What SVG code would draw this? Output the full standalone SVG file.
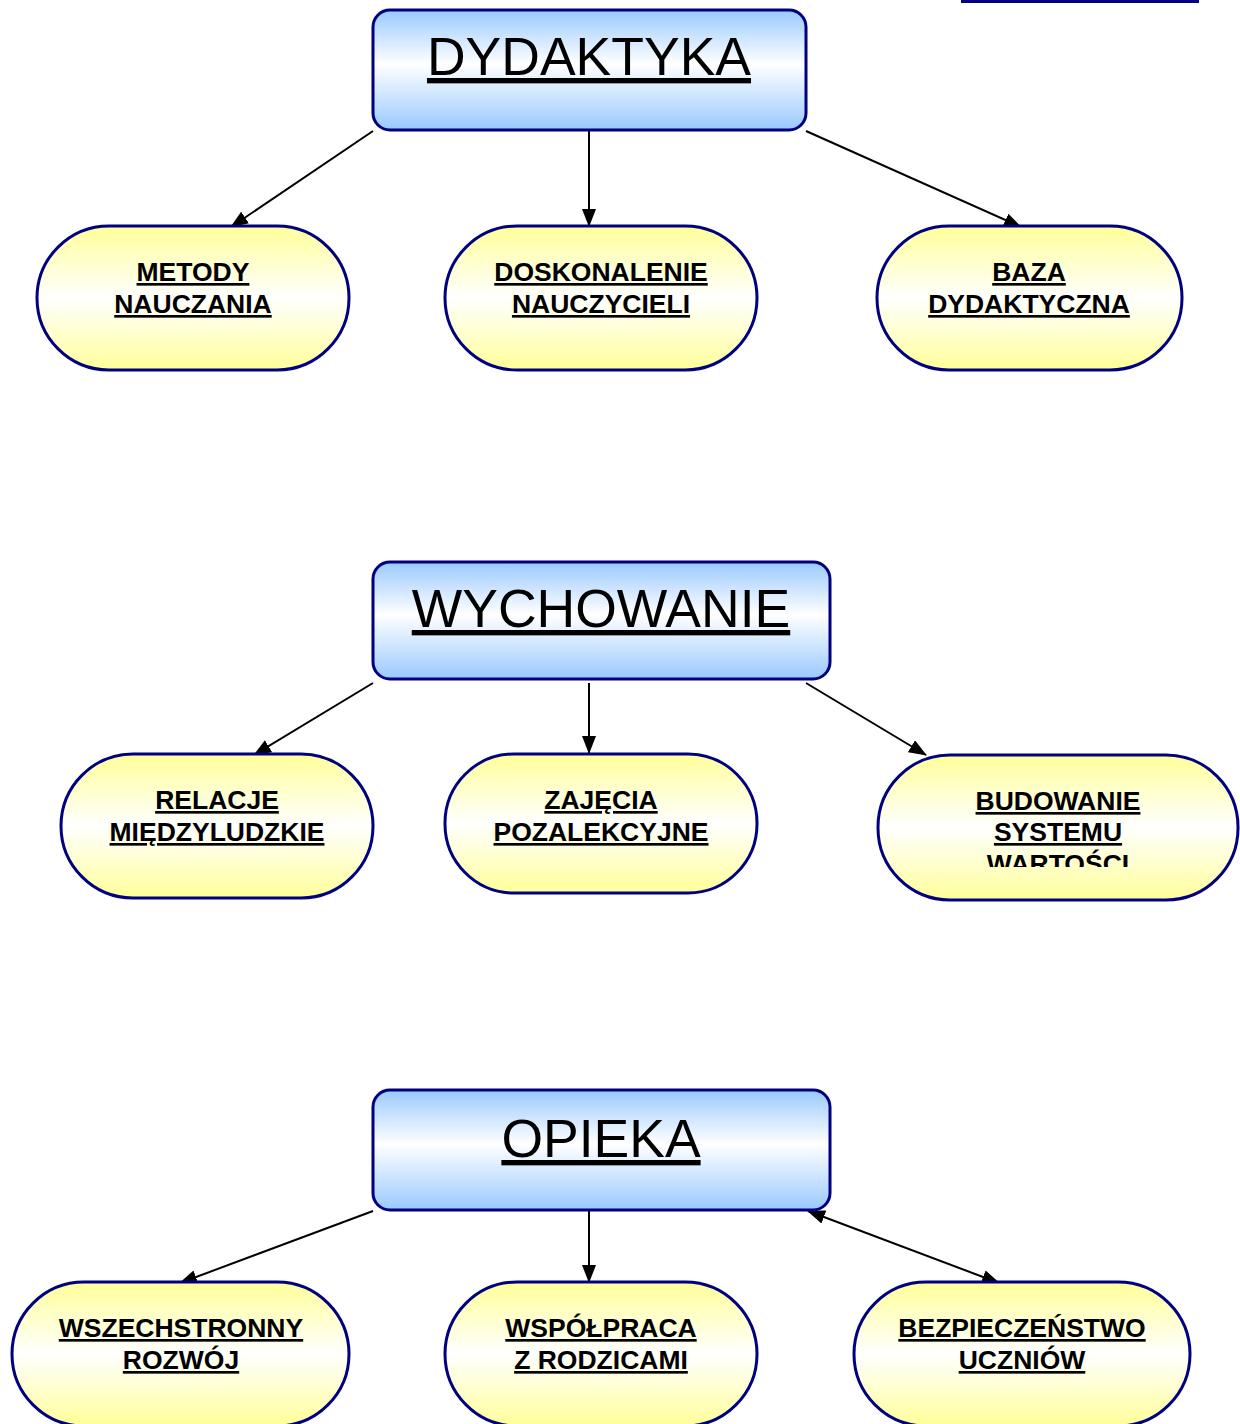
<svg xmlns="http://www.w3.org/2000/svg" width="1240" height="1424" viewBox="0 0 1240 1424">
<defs>
<linearGradient id="gBlue" x1="0" y1="0" x2="0" y2="1">
<stop offset="0" stop-color="#99c9ff"/>
<stop offset="0.45" stop-color="#ffffff"/>
<stop offset="1" stop-color="#99c9ff"/>
</linearGradient>
<linearGradient id="gYellow" x1="0" y1="0" x2="0" y2="1">
<stop offset="0" stop-color="#ffff99"/>
<stop offset="0.5" stop-color="#ffffff"/>
<stop offset="1" stop-color="#ffff99"/>
</linearGradient>
<marker id="ah" markerUnits="userSpaceOnUse" markerWidth="18" markerHeight="14" viewBox="0 0 18 14" refX="17" refY="7" orient="auto-start-reverse">
<path d="M0,0 L18,7 L0,14 z" fill="#000"/>
</marker>
<clipPath id="clipBud"><rect x="870" y="740" width="370" height="127"/></clipPath>
</defs>
<style>
.main{fill:url(#gBlue);stroke:#000080;stroke-width:3}
.sub{fill:url(#gYellow);stroke:#000080;stroke-width:3}
.big{font-family:"Liberation Sans",Arial,sans-serif;font-size:53.5px;fill:#000;text-anchor:middle;text-decoration:underline}
.lbl{font-family:"Liberation Sans",Arial,sans-serif;font-size:26.5px;font-weight:bold;fill:#000;text-anchor:middle;text-decoration:underline}
.con{stroke:#000;stroke-width:2;fill:none;marker-end:url(#ah)}
</style>
<rect x="961" y="0" width="238" height="3" fill="#000080"/>
<g id="connectors">
<line class="con" x1="373" y1="131" x2="231" y2="227"/>
<line class="con" x1="589" y1="131" x2="589" y2="226"/>
<line class="con" x1="806" y1="131" x2="1021" y2="227"/>
<line class="con" x1="373" y1="683" x2="254" y2="755"/>
<line class="con" x1="589" y1="683" x2="589" y2="753"/>
<line class="con" x1="806" y1="683" x2="926" y2="755"/>
<line class="con" x1="373" y1="1211" x2="180" y2="1283"/>
<line class="con" x1="589" y1="1211" x2="589" y2="1282"/>
<line class="con" x1="808" y1="1211" x2="999" y2="1283" style="marker-start:url(#ah)"/>
</g>
<g id="dydaktyka">
<rect class="main" x="373" y="10" width="433" height="120" rx="17"/>
<text class="big" x="589" y="75">DYDAKTYKA</text>
</g>
<g id="metody">
<rect class="sub" x="37" y="226" width="312" height="144" rx="72"/>
<text class="lbl" x="193" y="281">METODY</text>
<text class="lbl" x="193" y="313">NAUCZANIA</text>
</g>
<g id="doskonalenie">
<rect class="sub" x="445" y="226" width="312" height="144" rx="72"/>
<text class="lbl" x="601" y="281">DOSKONALENIE</text>
<text class="lbl" x="601" y="313">NAUCZYCIELI</text>
</g>
<g id="baza">
<rect class="sub" x="877" y="226" width="305" height="144" rx="72"/>
<text class="lbl" x="1029" y="281">BAZA</text>
<text class="lbl" x="1029" y="313">DYDAKTYCZNA</text>
</g>
<g id="wychowanie">
<rect class="main" x="373" y="562" width="457" height="117" rx="17"/>
<text class="big" x="601" y="627">WYCHOWANIE</text>
</g>
<g id="relacje">
<rect class="sub" x="61" y="754" width="312" height="144" rx="72"/>
<text class="lbl" x="217" y="809">RELACJE</text>
<text class="lbl" x="217" y="841">MIĘDZYLUDZKIE</text>
</g>
<g id="zajecia">
<rect class="sub" x="445" y="754" width="312" height="139" rx="69"/>
<text class="lbl" x="601" y="809">ZAJĘCIA</text>
<text class="lbl" x="601" y="841">POZALEKCYJNE</text>
</g>
<g id="budowanie">
<rect class="sub" x="878" y="755" width="360" height="145" rx="72"/>
<text class="lbl" x="1058" y="810">BUDOWANIE</text>
<text class="lbl" x="1058" y="841">SYSTEMU</text>
<text class="lbl" x="1058" y="873" clip-path="url(#clipBud)" style="text-decoration:none">WARTOŚCI</text>
</g>
<g id="opieka">
<rect class="main" x="373" y="1090" width="457" height="120" rx="17"/>
<text class="big" x="601" y="1157">OPIEKA</text>
</g>
<g id="wszechstronny">
<rect class="sub" x="12" y="1282" width="337" height="144" rx="72"/>
<text class="lbl" x="181" y="1337">WSZECHSTRONNY</text>
<text class="lbl" x="181" y="1369">ROZWÓJ</text>
</g>
<g id="wspolpraca">
<rect class="sub" x="445" y="1282" width="312" height="144" rx="72"/>
<text class="lbl" x="601" y="1337">WSPÓŁPRACA</text>
<text class="lbl" x="601" y="1369">Z RODZICAMI</text>
</g>
<g id="bezpieczenstwo">
<rect class="sub" x="854" y="1282" width="336" height="144" rx="72"/>
<text class="lbl" x="1022" y="1337">BEZPIECZEŃSTWO</text>
<text class="lbl" x="1022" y="1369">UCZNIÓW</text>
</g>
</svg>
